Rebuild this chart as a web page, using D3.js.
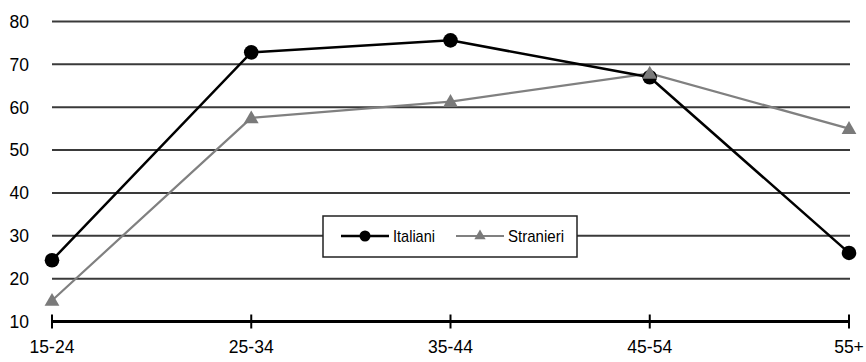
<!DOCTYPE html>
<html><head><meta charset="utf-8">
<script src="https://cdn.jsdelivr.net/npm/d3@7"></script>
<style>body{margin:0;background:#fff}svg{display:block}text{font-family:"Liberation Sans",Arial,sans-serif}</style>
</head><body><svg id="c" width="866" height="362"></svg>
<script>
const categories = ["15-24","25-34","35-44","45-54","55+"];
const italiani = [24.3, 72.8, 75.6, 67.0, 26.0];
const stranieri = [14.9, 57.5, 61.3, 67.9, 55.0];
const yTicks = [10,20,30,40,50,60,70,80];
const seriesNames = ["Italiani","Stranieri"];

const svg = d3.select("#c");
const x = d3.scalePoint().domain(categories).range([52, 849]);
const y = d3.scaleLinear().domain([10, 80]).range([321.5, 21.5]);

// gridlines
svg.append("g").selectAll("line").data(yTicks.filter(d=>d>10)).join("line")
  .attr("x1", 52).attr("x2", 850).attr("y1", d=>y(d)).attr("y2", d=>y(d))
  .attr("stroke", "#3a3a3a").attr("stroke-width", 2);

// y labels
svg.append("g").selectAll("text").data(yTicks).join("text")
  .attr("x", 29).attr("y", d=>y(d)).attr("dy", "0.36em")
  .attr("text-anchor", "end").attr("font-size", 17.5).attr("fill", "#000")
  .text(d=>d);

// x axis
const xa = svg.append("g").attr("transform", `translate(0,${y(10)})`)
  .call(d3.axisBottom(x).tickSize(0).tickPadding(0));
xa.select(".domain").remove();
xa.selectAll("text").remove();
svg.append("line").attr("x1", x(categories[0])).attr("x2", x(categories[4]))
  .attr("y1", y(10)).attr("y2", y(10)).attr("stroke", "#000").attr("stroke-width", 3);
svg.append("g").selectAll("line").data(categories).join("line")
  .attr("x1", d=>x(d)).attr("x2", d=>x(d)).attr("y1", y(10)-7).attr("y2", y(10)+7)
  .attr("stroke", "#000").attr("stroke-width", 2);
svg.append("g").selectAll("text").data(categories).join("text")
  .attr("x", d=>x(d)).attr("y", 353).attr("text-anchor", "middle")
  .attr("font-size", 17.5).attr("fill", "#000").text(d=>d);

const line = d3.line().x((d,i)=>x(categories[i])).y(d=>y(d));
const tri = d3.symbol().type(d3.symbolTriangle).size(95);

// Stranieri
svg.append("path").datum(stranieri).attr("d", line).attr("fill","none")
  .attr("stroke", "#808080").attr("stroke-width", 2.2);
// Italiani
svg.append("path").datum(italiani).attr("d", line).attr("fill","none")
  .attr("stroke", "#000").attr("stroke-width", 2.5);
svg.append("g").selectAll("circle").data(italiani).join("circle")
  .attr("cx", (d,i)=>x(categories[i])).attr("cy", d=>y(d)).attr("r", 7.3).attr("fill", "#000");
svg.append("g").selectAll("path").data(stranieri).join("path")
  .attr("d", tri).attr("transform", (d,i)=>`translate(${x(categories[i])},${y(d)+1})`)
  .attr("fill", "#7a7a7a");

// legend
const lg = svg.append("g");
lg.append("rect").attr("x", 323).attr("y", 216).attr("width", 254).attr("height", 41)
  .attr("fill", "#fff").attr("stroke", "#222").attr("stroke-width", 1.5);
const ly = 236;
lg.append("line").attr("x1", 341).attr("x2", 389).attr("y1", ly).attr("y2", ly).attr("stroke","#000").attr("stroke-width",2.5);
lg.append("circle").attr("cx", 365).attr("cy", ly).attr("r", 5.5).attr("fill","#000");
lg.append("text").attr("x", 393).attr("y", ly).attr("dy","0.36em").attr("font-size", 17)
  .attr("textLength", 42).attr("lengthAdjust","spacingAndGlyphs").text(seriesNames[0]);
lg.append("line").attr("x1", 456).attr("x2", 504).attr("y1", ly).attr("y2", ly).attr("stroke","#808080").attr("stroke-width",2);
lg.append("path").attr("d", d3.symbol().type(d3.symbolTriangle).size(55)).attr("transform",`translate(480,${ly})`).attr("fill","#7a7a7a");
lg.append("text").attr("x", 508).attr("y", ly).attr("dy","0.36em").attr("font-size", 17)
  .attr("textLength", 56).attr("lengthAdjust","spacingAndGlyphs").text(seriesNames[1]);
</script></body></html>
